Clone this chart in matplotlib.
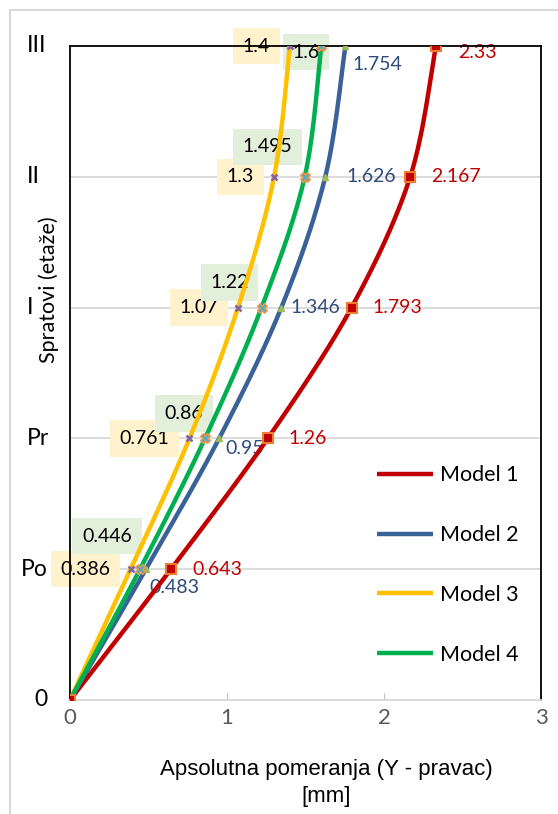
import numpy as np
import matplotlib
matplotlib.use('Agg')
import matplotlib.pyplot as plt
from matplotlib.patches import Rectangle
from matplotlib.transforms import blended_transform_factory

# Data
levels = ['0', 'Po', 'Pr', 'I', 'II', 'III']
model1 = [0, 0.643, 1.26, 1.793, 2.167, 2.33]
model2 = [0, 0.483, 0.95, 1.346, 1.626, 1.754]
model3 = [0, 0.386, 0.761, 1.07, 1.3, 1.4]
model4 = [0, 0.446, 0.86, 1.22, 1.495, 1.6]
names = ['Model 1', 'Model 2', 'Model 3', 'Model 4']

line_colors = ['#C00000', '#3A6298', '#FFC000', '#00B050']

# Label offsets in pixels (for points Po..III)
off1 = [(21, 0), (21, 0), (21, 0), (21, 0), (22, -6)]
off2 = [(4, -18), (6, -10), (9, 0), (21, 0), (7, -18)]
off3 = [(-20, 0)] * 5
off4 = [(-33, 33), (-21, 25), (-32, 25), (-37, 30), (-15, -6)]
# left edge of the y tick labels, in pixels
ytick_x = [34, 21, 27, 27, 27, 27]

W, H = 558, 814
fig = plt.figure(figsize=(W / 100, H / 100), dpi=100)
ax = fig.add_axes([70 / W, (H - 700) / H, (541 - 70) / W, (700 - 46) / H])

# chart area border
fig.patches.append(Rectangle((10 / W, -0.1), 1.2, (H - 10) / H + 0.1,
                             transform=fig.transFigure, fill=False,
                             edgecolor='#D9D9D9', lw=1.5))

ypos = np.arange(len(levels))
sx, sy = 471 / 3, 654 / 5


def smooth(xs, ys, n=40):
    # Excel-like bezier smoothing, computed in pixel space
    P = np.column_stack([np.array(xs) * sx, np.array(ys) * sy])
    E = np.vstack([P[0], P, P[-1]])
    t = np.linspace(0, 1, n)[:, None]
    pts = []
    for i in range(len(P) - 1):
        p0, p1, p2, p3 = E[i], E[i + 1], E[i + 2], E[i + 3]
        c1 = p1 + (p2 - p0) / 6
        c2 = p2 - (p3 - p1) / 6
        seg = (1 - t) ** 3 * p1 + 3 * (1 - t) ** 2 * t * c1 + 3 * (1 - t) * t ** 2 * c2 + t ** 3 * p2
        pts.append(seg)
    pts = np.vstack(pts)
    return pts[:, 0] / sx, pts[:, 1] / sy


series = [model1, model2, model3, model4]
for vals, c, nm in zip(series, line_colors, names):
    cx, cy = smooth(vals, ypos)
    ax.plot(cx, cy, color=c, lw=3.2, label=nm, zorder=3, solid_capstyle='butt')

# markers (excel default series markers)
ax.plot(model2, ypos, ls='none', marker='^', ms=5, color='#9BBB59', zorder=4)
ax.plot(model3, ypos, ls='none', marker='x', ms=5, mew=1.8, color='#8064A2', zorder=4)
ax.plot(model4, ypos, ls='none', marker='X', ms=7, mfc='#4BACC6', mec='#F79646', mew=1, zorder=4)
ax.plot(model1, ypos, ls='none', marker='s', ms=7, mfc='#C00000', mec='#ED7D31', mew=1.5, zorder=5)

lab_font = 'Lato'
fs = 14
for v, y, o in zip(model1[1:], ypos[1:], off1):
    ax.annotate(f'{v:g}', (v, y), xytext=o, textcoords='offset pixels', ha='left', va='center',
                fontsize=fs, color='#C00000', family=lab_font, zorder=2)
for v, y, o in zip(model2[1:], ypos[1:], off2):
    ax.annotate(f'{v:g}', (v, y), xytext=o, textcoords='offset pixels', ha='left', va='center',
                fontsize=fs, color='#2E4A7A', family=lab_font, zorder=2)
for v, y, o in zip(model3[1:], ypos[1:], off3):
    ax.annotate(f'{v:g}', (v, y), xytext=o, textcoords='offset pixels', ha='right', va='center',
                fontsize=fs, color='black', family=lab_font, zorder=2,
                bbox=dict(boxstyle='square,pad=0.5', fc='#FFF2CC', ec='none'))
for v, y, o in zip(model4[1:], ypos[1:], off4):
    ax.annotate(f'{v:g}', (v, y), xytext=o, textcoords='offset pixels', ha='center', va='center',
                fontsize=fs, color='black', family=lab_font, zorder=2,
                bbox=dict(boxstyle='square,pad=0.5', fc='#E2EFDA', ec='none'))

ax.set_xlim(0, 3)
ax.set_ylim(0, 5)
ax.set_xticks([0, 1, 2, 3])
ax.set_yticks(ypos)
ax.set_yticklabels([])
for y in ypos[1:5]:
    ax.axhline(y, color='#D9D9D9', lw=1.3, zorder=1)

# y category labels
tr = blended_transform_factory(fig.transFigure, ax.transData)
for lab, y, xp in zip(levels, ypos, ytick_x):
    fig.text(xp / W, y, lab, transform=tr, ha='left', va='center',
             fontsize=16.5, family=lab_font, color='black')

ax.tick_params(axis='y', length=0)
ax.tick_params(axis='x', direction='in', length=5, color='#BFBFBF', pad=6,
               labelsize=16, labelcolor='#595959')
for lab in ax.get_xticklabels():
    lab.set_family(lab_font)

for s in ['left', 'right', 'top']:
    ax.spines[s].set_color('black')
    ax.spines[s].set_linewidth(1.3)
ax.spines['bottom'].set_color('#D9D9D9')
ax.spines['bottom'].set_linewidth(1.3)

ax.set_xlabel('Apsolutna pomeranja (Y - pravac)\n[mm]', fontsize=16,
              family='Liberation Sans', linespacing=1.35)
ax.xaxis.set_label_coords((326 - 70) / 471, -(759 - 700) / 654, transform=ax.transAxes)
ax.xaxis.label.set_va('top')
ax.set_ylabel('Spratovi (etaže)', fontsize=15.5, family=lab_font)
ax.yaxis.set_label_coords((49 - 70) / 471, (700 - 290) / 654)
ax.yaxis.label.set_va('center')

leg = ax.legend(loc='upper left', bbox_to_anchor=((358 - 70) / 471, (700 - 446) / 654),
                frameon=False, prop={'family': lab_font, 'size': 15.5},
                handlelength=2.6, handletextpad=0.3, labelspacing=1.85)

fig.savefig('out.png', dpi=100)
